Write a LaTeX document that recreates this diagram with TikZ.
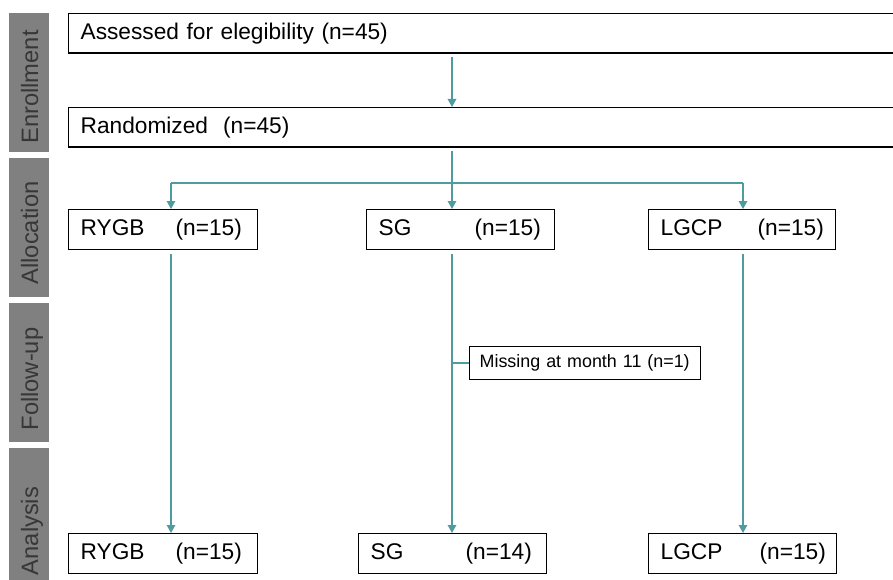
\documentclass[tikz,border=0pt]{standalone}
\usepackage{fontspec}
\setmainfont{Liberation Sans}
\usetikzlibrary{arrows.meta,calc}
\definecolor{teal1}{RGB}{78,155,160}
\definecolor{bargray}{RGB}{128,128,128}
\definecolor{bartext}{RGB}{55,55,55}
\tikzset{
  fbox/.style={draw=black, line width=1.3pt, inner xsep=12pt, inner ysep=0pt, align=left, anchor=north west,
    font=\fontsize{22.7}{27}\selectfont},
  conn/.style={draw=teal1, line width=1.4pt},
  arr/.style={conn, -{Triangle[length=8pt,width=8.5pt]}},
  barbox/.style={fill=bargray, draw=none},
  bartxt/.style={rotate=90, anchor=base, text=bartext, font=\fontsize{23.7}{28}\selectfont},
}
\begin{document}
\begin{tikzpicture}[x=1pt,y=-1pt]
\clip (0,0) rectangle (893,580);
\fill[white] (0,0) rectangle (893,580);
% side bars
\fill[barbox] (9,13) rectangle (49,152);
\fill[barbox] (9,158) rectangle (49,297);
\fill[barbox] (9,303) rectangle (49,442);
\fill[barbox] (9,448) rectangle (49,600);
\node[bartxt] (tEnr) at (38,87) {Enrollment};
\node[bartxt] (tAll) at (38,233) {Allocation};
\node[bartxt] (tFol) at (38,379) {Follow-up};
\node[bartxt] (tAna) at (38,531) {Analysis};
% boxes
\node[fbox, text width=876pt, minimum height=39.5pt] (assess) at (68,13) {Assessed for elegibility (n=45)};
\node[fbox, text width=876pt, minimum height=39.5pt] (rand) at (68,107) {Randomized\ \ (n=45)};
\node[fbox, text width=165pt, minimum height=40pt] (rygbA) at (68,209) {\makebox[95pt][l]{RYGB}(n=15)};
\node[fbox, text width=164pt, minimum height=40pt] (sgA) at (366,209) {\makebox[96pt][l]{SG}(n=15)};
\node[fbox, text width=163pt, minimum height=40pt] (lgcpA) at (648,209) {\makebox[97pt][l]{LGCP}(n=15)};
\node[fbox, text width=165pt, minimum height=39.5pt] (rygbB) at (68,533) {\makebox[95pt][l]{RYGB}(n=15)};
\node[fbox, text width=164pt, minimum height=39.5pt] (sgB) at (358,533) {\makebox[95pt][l]{SG}(n=14)};
\node[fbox, text width=164pt, minimum height=39.5pt] (lgcpB) at (648,533) {\makebox[99pt][l]{LGCP}(n=15)};
\node[fbox, inner xsep=10pt, text width=211pt, minimum height=33pt, font=\fontsize{17.9}{21}\selectfont] (miss) at (469,346) {Missing at month 11 (n=1)};
% columns
\coordinate (colA) at (171,0);
\coordinate (colB) at (452,0);
\coordinate (colC) at (743,0);
\coordinate (split) at (452,183);
% connectors
\draw[arr] ([yshift=-3.5pt]colB |- assess.south) -- (colB |- rand.north);
\draw[conn] ([yshift=-3.5pt]colB |- rand.south) -- (split);
\draw[conn] (colA |- split) -- (colC |- split);
\draw[arr] (split) -- (colB |- sgA.north);
\draw[arr] (colA |- split) -- (colA |- rygbA.north);
\draw[arr] (colC |- split) -- (colC |- lgcpA.north);
\draw[arr] ([yshift=-3.5pt]colA |- rygbA.south) -- (colA |- rygbB.north);
\draw[arr] ([yshift=-3.5pt]colB |- sgA.south) -- (colB |- sgB.north);
\draw[arr] ([yshift=-3.5pt]colC |- lgcpA.south) -- (colC |- lgcpB.north);
\draw[conn] (colB |- miss.west) -- (miss.west);
\end{tikzpicture}
\end{document}
